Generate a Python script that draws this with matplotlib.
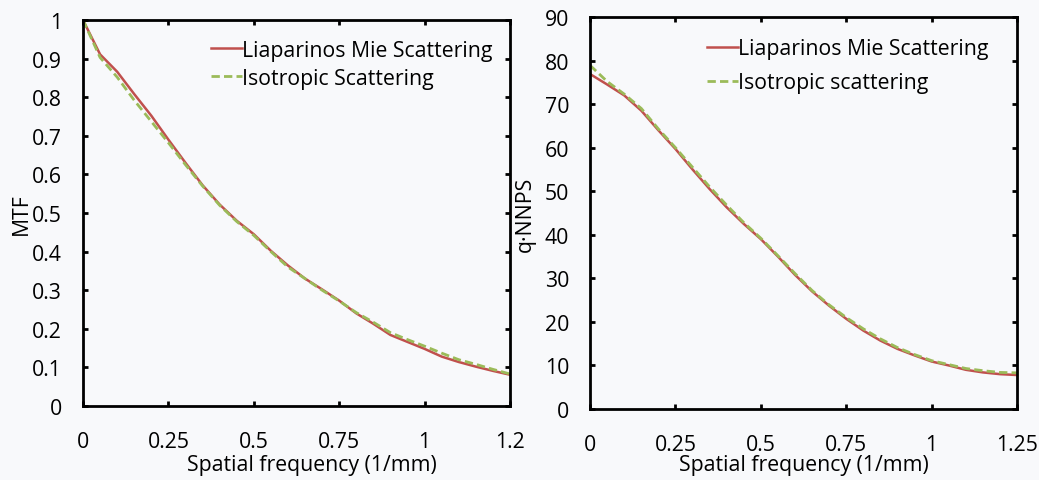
import matplotlib
matplotlib.use("Agg")
import matplotlib.pyplot as plt

plt.rcParams['font.family'] = ['Open Sans', 'DejaVu Sans']

freq = [0.0, 0.05, 0.10, 0.15, 0.20, 0.25, 0.30, 0.35, 0.40, 0.45, 0.50, 0.55, 0.60,
        0.65, 0.70, 0.75, 0.80, 0.85, 0.90, 0.95, 1.00, 1.05, 1.10, 1.15, 1.20, 1.25]

mtf_mie = [1.0, 0.911, 0.866, 0.808, 0.752, 0.690, 0.630, 0.572, 0.522, 0.480, 0.445,
           0.402, 0.364, 0.330, 0.302, 0.273, 0.240, 0.213, 0.184, 0.166, 0.148, 0.128,
           0.114, 0.102, 0.091, 0.081]
mtf_iso = [1.0, 0.903, 0.852, 0.792, 0.737, 0.682, 0.625, 0.570, 0.520, 0.478, 0.442,
           0.400, 0.360, 0.330, 0.300, 0.272, 0.242, 0.217, 0.190, 0.172, 0.155, 0.137,
           0.120, 0.108, 0.095, 0.083]

nnps_mie = [76.9, 74.5, 72.0, 68.5, 64.0, 59.7, 55.0, 50.5, 46.3, 42.5, 39.0, 35.0, 30.8,
            27.0, 23.7, 20.7, 18.0, 15.7, 13.8, 12.3, 10.9, 10.0, 9.0, 8.4, 8.0, 7.8]
nnps_iso = [78.9, 75.2, 72.3, 69.0, 64.3, 60.0, 55.5, 51.0, 46.8, 42.8, 39.2, 35.2, 31.1,
            27.2, 23.9, 21.0, 18.4, 16.1, 14.1, 12.5, 11.1, 10.2, 9.3, 8.8, 8.4, 8.3]

x_ticks = [0, 0.25, 0.5, 0.75, 1.0, 1.25]
x_labels_left = ['0', '0.25', '0.5', '0.75', '1', '1.2']
x_labels_right = ['0', '0.25', '0.5', '0.75', '1', '1.25']
mtf_ticks = [0, 0.1, 0.2, 0.3, 0.4, 0.5, 0.6, 0.7, 0.8, 0.9, 1.0]
mtf_labels = ['0', '0.1', '0.2', '0.3', '0.4', '0.5', '0.6', '0.7', '0.8', '0.9', '1']
nnps_ticks = [0, 10, 20, 30, 40, 50, 60, 70, 80, 90]

red = '#c0504d'
green = '#9bbb59'
bg = '#f8f9fb'
FS = 15.3

fig = plt.figure(figsize=(10.39, 4.81), dpi=100, facecolor=bg)
ax1 = fig.add_axes([0.0799, 0.1538, 0.411, 0.8025])
ax2 = fig.add_axes([0.5679, 0.1476, 0.411, 0.815])

def style(ax):
    ax.set_facecolor(bg)
    for s in ax.spines.values():
        s.set_linewidth(2.0)
        s.set_color('black')
    ax.tick_params(direction='in', top=True, right=True, length=3.5, width=2,
                   labelsize=FS, colors='black')
    ax.tick_params(axis='x', pad=18)
    ax.tick_params(axis='y', pad=15)

ax1.plot(freq, mtf_mie, color=red, lw=1.8, label='Liaparinos Mie Scattering')
ax1.plot(freq, mtf_iso, color=green, lw=2.0, ls=(0, (3, 1.5)), label='Isotropic Scattering')
ax1.set_xlim(0, 1.25)
ax1.set_ylim(0, 1.0)
ax1.set_xticks(x_ticks)
ax1.set_xticklabels(x_labels_left)
ax1.set_yticks(mtf_ticks)
ax1.set_yticklabels(mtf_labels)
style(ax1)
ax1.set_ylabel('MTF', fontsize=FS)
ax1.yaxis.set_label_coords(-0.12, 0.5)
ax1.set_xlabel('Spatial frequency (1/mm)', fontsize=FS)
ax1.xaxis.set_label_coords(0.536, -0.124)
ax1.legend(loc='upper left', bbox_to_anchor=(0.30, 0.949), frameon=False, fontsize=FS,
           handlelength=1.45, handletextpad=0.0, borderaxespad=0.0, borderpad=0.0,
           labelspacing=0.33)

ax2.plot(freq, nnps_mie, color=red, lw=1.8, label='Liaparinos Mie Scattering')
ax2.plot(freq, nnps_iso, color=green, lw=2.0, ls=(0, (3, 1.5)), label='Isotropic scattering')
ax2.set_xlim(0, 1.25)
ax2.set_ylim(0, 90)
ax2.set_xticks(x_ticks)
ax2.set_xticklabels(x_labels_right)
ax2.set_yticks(nnps_ticks)
style(ax2)
ax2.set_ylabel('q·NNPS', fontsize=FS)
ax2.yaxis.set_label_coords(-0.128, 0.5)
ax2.set_xlabel('Spatial frequency (1/mm)', fontsize=FS)
ax2.xaxis.set_label_coords(0.5, -0.115)
ax2.legend(loc='upper left', bbox_to_anchor=(0.274, 0.946), frameon=False, fontsize=FS,
           handlelength=1.45, handletextpad=0.0, borderaxespad=0.0, borderpad=0.0,
           labelspacing=0.62)

fig.savefig('out.png', dpi=100, facecolor=bg)
